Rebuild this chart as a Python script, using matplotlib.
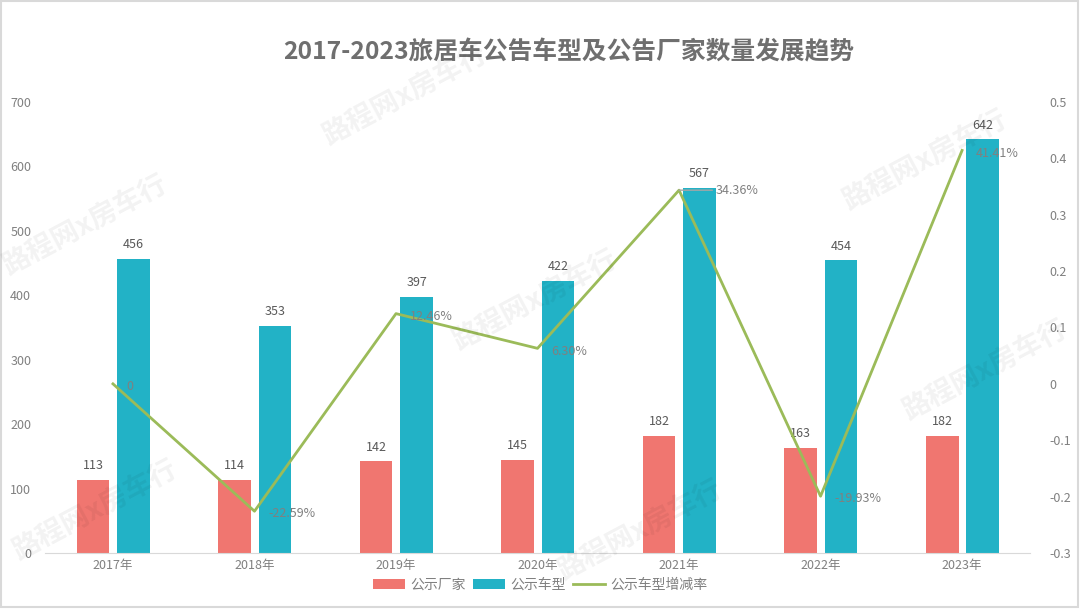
import matplotlib.pyplot as plt
import numpy as np
from matplotlib.patches import Rectangle

plt.rcParams['font.family'] = ['Noto Sans CJK SC', 'DejaVu Sans']

years = ["2017年", "2018年", "2019年", "2020年", "2021年", "2022年", "2023年"]
makers = [113, 114, 142, 145, 182, 163, 182]
models = [456, 353, 397, 422, 567, 454, 642]
growth = [0, -0.2259, 0.1246, 0.0630, 0.3436, -0.1993, 0.4141]
growth_labels = ["0", "-22.59%", "12.46%", "6.30%", "34.36%", "-19.93%", "41.41%"]

red = "#F07670"
teal = "#22B2C6"
green = "#9BBB59"
txt = "#808080"

fig = plt.figure(figsize=(10.8, 6.09), dpi=100)
fig.patch.set_facecolor("white")
ax = fig.add_axes([0.0417, 0.092, 0.912, 0.7405])
ax2 = ax.twinx()

x = np.arange(len(years))
w = 0.23
ax.bar(x - 0.14, makers, w, color=red, label="公示厂家")
ax.bar(x + 0.145, models, w, color=teal, label="公示车型")
for xi, v in zip(x, makers):
    ax.text(xi - 0.14, v + 12, str(v), ha="center", va="bottom", color="#595959", fontsize=9)
for xi, v in zip(x, models):
    ax.text(xi + 0.145, v + 12, str(v), ha="center", va="bottom", color="#595959", fontsize=9)

ax.set_ylim(0, 700)
ax.set_xlim(-0.48, len(years) - 0.52)
ax.set_yticks(range(0, 701, 100))
ax.set_xticks(x)
ax.set_xticklabels(years)

ax2.plot(x, growth, color=green, lw=2, label="公示车型增减率")
ax2.set_ylim(-0.3, 0.5)
ax2.set_yticks(np.arange(-0.3, 0.51, 0.1))
ax2.set_yticklabels(["-0.3", "-0.2", "-0.1", "0", "0.1", "0.2", "0.3", "0.4", "0.5"])

for i, (xi, v, lab) in enumerate(zip(x, growth, growth_labels)):
    if i == 4:
        ax2.annotate(lab, (xi, v), xytext=(26, 0), textcoords="offset points",
                     ha="left", va="center", color=txt, fontsize=9,
                     arrowprops=dict(arrowstyle="-", color="#A6A6A6", lw=1,
                                     shrinkA=0, shrinkB=0))
    else:
        ax2.annotate(lab, (xi, v), xytext=(10, -2), textcoords="offset points",
                     ha="left", va="center", color=txt, fontsize=9)

for a in (ax, ax2):
    for s in a.spines.values():
        s.set_visible(False)
    a.tick_params(length=0, colors=txt, labelsize=9)
ax.spines["bottom"].set_visible(True)
ax.spines["bottom"].set_color("#D9D9D9")
ax.tick_params(axis="y", pad=10)
ax2.tick_params(axis="y", pad=14)
ax.tick_params(axis="x", pad=4)

fig.text(0.527, 0.914, "2017-2023旅居车公告车型及公告厂家数量发展趋势", ha="center", va="center",
         fontsize=17.8, fontweight="bold", color="#6F6F6F")

h1, l1 = ax.get_legend_handles_labels()
h2, l2 = ax2.get_legend_handles_labels()
fig.legend(h1 + h2, l1 + l2, loc="center", bbox_to_anchor=(0.5, 0.04), ncol=3,
           frameon=False, fontsize=10, labelcolor=txt, handlelength=2.3,
           handleheight=0.8, columnspacing=0.5, handletextpad=0.4)

# watermark
marks = [(405, 95), (925, 160), (85, 225), (535, 300), (985, 370), (95, 510), (640, 530)]
for px, py in marks:
    fig.text(px / 1080, 1 - py / 609, "路程网x房车行", ha="center", va="center",
             rotation=28, fontsize=20, fontweight="bold", color="#000000", alpha=0.05)

fig.add_artist(Rectangle((0.001, 0.004), 0.997, 0.994, transform=fig.transFigure,
                         fill=False, edgecolor="#D9D9D9", lw=1.5))

fig.savefig("out.png", dpi=100)
